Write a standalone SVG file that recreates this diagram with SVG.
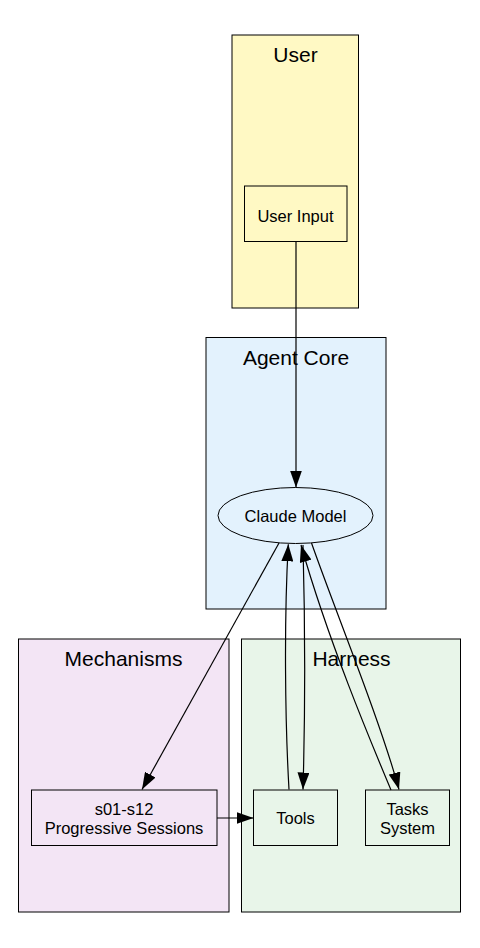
<svg xmlns="http://www.w3.org/2000/svg" width="480" height="948" viewBox="0 0 480 948">
<style>
.cl{stroke:#000;stroke-width:1}
.ct{font-family:"Liberation Sans",Arial,sans-serif;font-size:21px;text-anchor:middle;fill:#000}
.nt{font-family:"Liberation Sans",Arial,sans-serif;font-size:16.5px;text-anchor:middle;fill:#000}
.e{fill:none;stroke:#000;stroke-width:1.2}
</style>
<defs>
<marker id="a" markerWidth="17" markerHeight="12" refX="17" refY="6" orient="auto" markerUnits="userSpaceOnUse">
<path d="M0,0 L17,6 L0,12 Z" fill="#000"/>
</marker>
</defs>
<rect width="480" height="948" fill="#fff"/>
<g id="cluster_user">
<rect class="cl" x="232" y="35" width="126.5" height="273" fill="#fff9c4"/>
<text class="ct" x="295.5" y="62">User</text>
</g>
<g id="cluster_core">
<rect class="cl" x="206" y="337.5" width="180" height="271.5" fill="#e3f2fd"/>
<text class="ct" x="296" y="364.5">Agent Core</text>
</g>
<g id="cluster_mech">
<rect class="cl" x="18.5" y="639" width="210.5" height="273" fill="#f3e5f5"/>
<text class="ct" x="123.5" y="666">Mechanisms</text>
</g>
<g id="cluster_harness">
<rect class="cl" x="241.5" y="639" width="219" height="273" fill="#e8f5e9"/>
<text class="ct" x="351.5" y="666">Harness</text>
</g>
<g id="user_input">
<rect class="cl" x="244.5" y="186" width="102.5" height="55.5" fill="#fff9c4"/>
<text class="nt" x="295.5" y="221.5">User Input</text>
</g>
<g id="claude">
<ellipse class="cl" cx="295.5" cy="515.5" rx="77.5" ry="28" fill="#e3f2fd"/>
<text class="nt" x="295.5" y="522">Claude Model</text>
</g>
<g id="sessions">
<rect class="cl" x="31.5" y="790" width="185.5" height="55.5" fill="#f3e5f5"/>
<text class="nt" x="124" y="815">s01-s12</text>
<text class="nt" x="124" y="833.5">Progressive Sessions</text>
</g>
<g id="tools">
<rect class="cl" x="253.5" y="790" width="84" height="55.5" fill="#e8f5e9"/>
<text class="nt" x="295.5" y="824">Tools</text>
</g>
<g id="tasks">
<rect class="cl" x="365.5" y="790" width="84" height="55.5" fill="#e8f5e9"/>
<text class="nt" x="407.5" y="815">Tasks</text>
<text class="nt" x="407.5" y="834">System</text>
</g>
<g id="connectors">
<path class="e" d="M296,241.5 L296,487.5" marker-end="url(#a)"/>
<path class="e" d="M279,543 L142,789.5" marker-end="url(#a)"/>
<path class="e" d="M217,818 L253.5,818" marker-end="url(#a)"/>
<path class="e" d="M289,789.5 C285,720 284,620 288.3,544.3" marker-end="url(#a)"/>
<path class="e" d="M303,545 C305,620 305,720 303,789.5" marker-end="url(#a)"/>
<path class="e" d="M391,790 C370,740 328,640 301,545" marker-end="url(#a)"/>
<path class="e" d="M311.5,543 C335,610 380,720 399,789.5" marker-end="url(#a)"/>
</g>
</svg>
